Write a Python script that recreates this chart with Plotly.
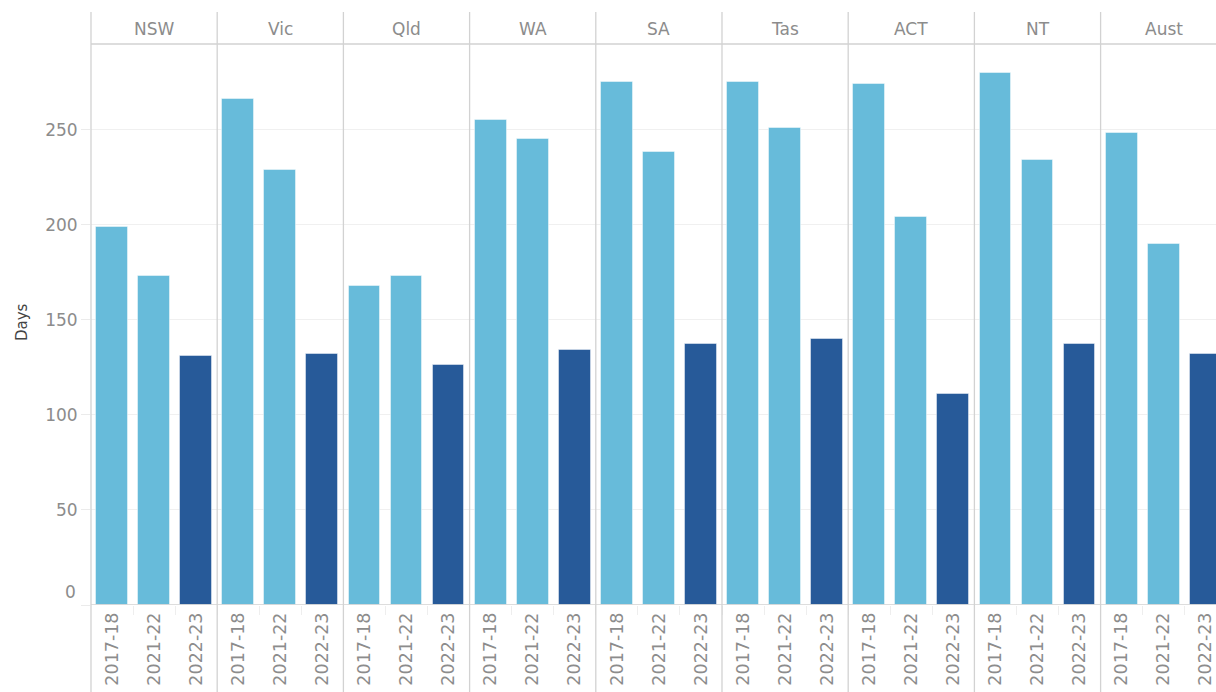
import plotly.graph_objects as go

states = ["NSW", "Vic", "Qld", "WA", "SA", "Tas", "ACT", "NT", "Aust"]
periods = ["2017-18", "2021-22", "2022-23"]
days_2017_18 = [199, 266, 168, 255, 275, 275, 274, 280, 248]
days_2021_22 = [173, 229, 173, 245, 238, 251, 204, 234, 190]
days_2022_23 = [131, 132, 126, 134, 137, 140, 111, 137, 132]
period_colors = {"2017-18": "#67BBDA", "2021-22": "#67BBDA", "2022-23": "#275A99"}
y_ticks = [0, 50, 100, 150, 200, 250]

series = {"2017-18": days_2017_18, "2021-22": days_2021_22, "2022-23": days_2022_23}

xs, ys, cols, labels, state_of = [], [], [], [], []
for i, s in enumerate(states):
    for j, p in enumerate(periods):
        xs.append(i * len(periods) + j)
        ys.append(series[p][i])
        cols.append(period_colors[p])
        labels.append(p)
        state_of.append(s)

# body margin is removed in the page (post_script), so the figure fills the window
W, H = 1216, 692
ML, MR, MT, MB = 91, 0, 44, 87
plot_h = H - MT - MB
n = len(xs)
cat_px = 126.2 / len(periods)
x_right = -0.5 + (W - ML - MR) / cat_px

def py(page_y):
    return (H - MB - page_y) / plot_h

def px(page_x):
    return (page_x - ML) / (W - ML - MR)

FONT = "DejaVu Sans, Verdana, sans-serif"
TXT = "#8C8C8C"

fig = go.Figure()
fig.add_trace(go.Bar(
    x=xs, y=ys, width=0.755,
    marker=dict(color=cols, line=dict(color="rgba(255,255,255,0.45)", width=1)),
    customdata=state_of, text=labels, textposition="none",
    hovertemplate="%{customdata} %{text}: %{y}<extra></extra>",
))

grey_line = "#D2D2D2"
shapes = []
for i in range(1, len(states)):
    b = i * len(periods) - 0.5
    shapes.append(dict(type="line", xref="x", yref="paper", x0=b, x1=b,
                       y0=py(H), y1=py(12), line=dict(color=grey_line, width=1.3)))
shapes.append(dict(type="line", xref="paper", yref="paper", x0=0, x1=0,
                   y0=py(H), y1=py(12), line=dict(color=grey_line, width=1.3)))
shapes.append(dict(type="line", xref="paper", yref="paper", x0=0, x1=1,
                   y0=1, y1=1, line=dict(color=grey_line, width=1.3)))
shapes.append(dict(type="line", xref="paper", yref="y", x0=0, x1=1,
                   y0=0, y1=0, line=dict(color=grey_line, width=1.3)))

annotations = []
for i, s in enumerate(states):
    annotations.append(dict(text=s, x=i * len(periods) + 1, y=py(29), xref="x", yref="paper",
                            showarrow=False, xanchor="center", yanchor="middle",
                            font=dict(family=FONT, size=17, color=TXT)))
annotations.append(dict(text="Days", x=px(22), y=py(322), xref="paper", yref="paper",
                        showarrow=False, textangle=-90, xanchor="center", yanchor="middle",
                        font=dict(family=FONT, size=15, color="#444444")))
# Tableau nudges the bottom tick label up off the axis line
annotations.append(dict(text=str(y_ticks[0]), x=px(78), y=py(592), xref="paper", yref="paper",
                        showarrow=False, xanchor="right", yanchor="middle",
                        font=dict(family=FONT, size=17, color=TXT)))

boundaries = [k - 0.5 for k in range(1, n)]

fig.update_layout(
    width=W, height=H,
    margin=dict(l=ML, r=MR, t=MT, b=MB, pad=0),
    paper_bgcolor="white", plot_bgcolor="white",
    font=dict(family=FONT, color=TXT),
    showlegend=False,
    bargap=0,
    shapes=shapes,
    annotations=annotations,
    xaxis=dict(
        range=[-0.5, x_right], tickmode="array", tickvals=xs, ticktext=labels,
        tickangle=-90, tickfont=dict(family=FONT, size=17.5, color=TXT),
        showgrid=False, zeroline=False, showline=False, ticks="",
        ticklabelstandoff=3,
        minor=dict(tickmode="array", tickvals=boundaries, ticks="outside", ticklen=9,
                   tickcolor="#EEEEEE", tickwidth=1, showgrid=False),
        fixedrange=True,
    ),
    yaxis=dict(
        range=[0, 295], tickmode="array", tickvals=y_ticks,
        ticktext=[""] + [str(v) for v in y_ticks[1:]],
        tickfont=dict(family=FONT, size=17, color=TXT),
        showgrid=True, gridcolor="#F0F0F0", gridwidth=1,
        zeroline=False, showline=False,
        ticks="outside", ticklen=9, tickcolor="#EBEBEB",
        fixedrange=True,
    ),
)

fig.write_html(
    "out.html",
    config={"displayModeBar": False},
    post_script=(
        "document.body.style.margin='0';"
        "document.documentElement.style.overflow='hidden';"
        "document.body.style.overflow='hidden';"
    ),
)
